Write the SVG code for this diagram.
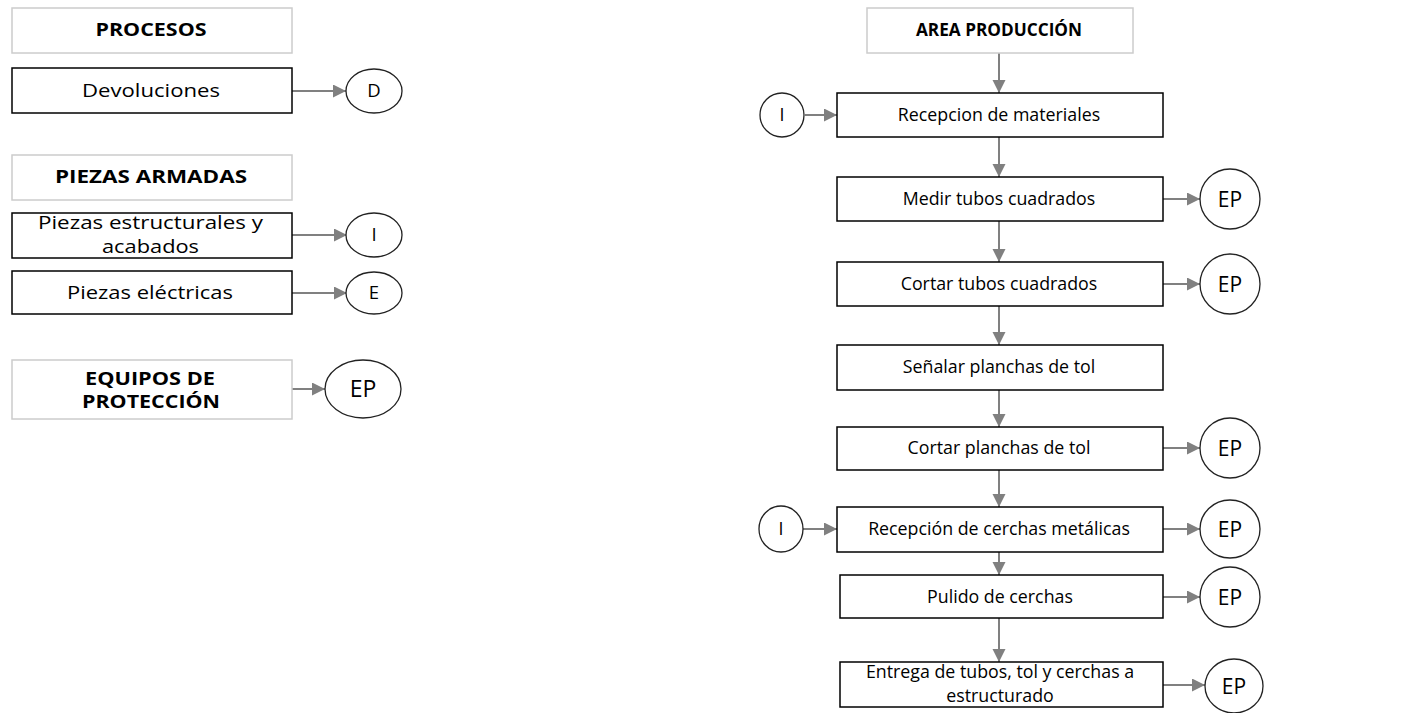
<svg xmlns="http://www.w3.org/2000/svg" width="1402" height="713" viewBox="0 0 1402 713">
<style>
.hdr{fill:#fff;stroke:#cccccc;stroke-width:1.5}
.box{fill:#fff;stroke:#000;stroke-width:1.5}
.circ{fill:#fff;stroke:#222;stroke-width:1.3}
.t{font-family:"Open Sans",sans-serif;fill:#000;text-anchor:middle}
.tl{font-size:18.5px}
.tr{font-size:17.8px}
.b{font-family:"Open Sans",sans-serif;font-weight:bold;fill:#000;text-anchor:middle;font-size:17px}
.c{stroke:#808080;stroke-width:2;fill:none;marker-end:url(#ah)}
</style>
<defs>
<marker id="ah" markerUnits="userSpaceOnUse" markerWidth="14" markerHeight="14" refX="13" refY="6.5" orient="auto">
<path d="M0,0 L13,6.5 L0,13 z" fill="#808080"/>
</marker>
</defs>
<rect width="1402" height="713" fill="#fff"/>
<g id="connectors">
<line class="c" x1="292" y1="91" x2="346" y2="91"/>
<line class="c" x1="292" y1="235" x2="347" y2="235"/>
<line class="c" x1="292" y1="293" x2="347" y2="293"/>
<line class="c" x1="292" y1="389" x2="325" y2="389"/>
<line class="c" x1="999" y1="53" x2="999" y2="93"/>
<line class="c" x1="805" y1="115" x2="837" y2="115"/>
<line class="c" x1="999" y1="137" x2="999" y2="177"/>
<line class="c" x1="1163" y1="199" x2="1200" y2="199"/>
<line class="c" x1="999" y1="221" x2="999" y2="262"/>
<line class="c" x1="1163" y1="284" x2="1200" y2="284"/>
<line class="c" x1="999" y1="306" x2="999" y2="345"/>
<line class="c" x1="999" y1="390" x2="999" y2="427"/>
<line class="c" x1="1163" y1="448" x2="1200" y2="448"/>
<line class="c" x1="999" y1="470" x2="999" y2="507"/>
<line class="c" x1="803" y1="529" x2="837" y2="529"/>
<line class="c" x1="1163" y1="529" x2="1200" y2="529"/>
<line class="c" x1="999" y1="552" x2="999" y2="575"/>
<line class="c" x1="1163" y1="597" x2="1200" y2="597"/>
<line class="c" x1="999" y1="618" x2="999" y2="662"/>
<line class="c" x1="1163" y1="685" x2="1205" y2="685"/>
</g>
<g id="procesos"><rect class="hdr" x="12" y="8" width="280" height="45"/><text class="b" x="151" y="36" textLength="111" lengthAdjust="spacingAndGlyphs">PROCESOS</text></g>
<g id="devoluciones"><rect class="box" x="12" y="68" width="280" height="45"/><text class="t tl" x="151" y="97" textLength="138" lengthAdjust="spacingAndGlyphs">Devoluciones</text></g>
<g id="circD"><ellipse class="circ" cx="374" cy="91" rx="28" ry="22"/><text class="t tl" x="374" y="97">D</text></g>
<g id="piezasArmadas"><rect class="hdr" x="12" y="155" width="280" height="45"/><text class="b" x="151" y="183" textLength="192" lengthAdjust="spacingAndGlyphs">PIEZAS ARMADAS</text></g>
<g id="piezasEstructurales"><rect class="box" x="12" y="213" width="280" height="45"/><text class="t" font-size="17.5" x="150.5" y="229" textLength="225" lengthAdjust="spacingAndGlyphs">Piezas estructurales y</text><text class="t" font-size="17.5" x="150.5" y="253" textLength="97" lengthAdjust="spacingAndGlyphs">acabados</text></g>
<g id="circI1"><ellipse class="circ" cx="374" cy="235" rx="28" ry="22"/><text class="t tl" x="374" y="241">I</text></g>
<g id="piezasElectricas"><rect class="box" x="12" y="271" width="280" height="43"/><text class="t tl" x="150" y="299" textLength="166" lengthAdjust="spacingAndGlyphs">Piezas eléctricas</text></g>
<g id="circE"><ellipse class="circ" cx="374" cy="293" rx="28" ry="21"/><text class="t tl" x="374" y="299">E</text></g>
<g id="equipos"><rect class="hdr" x="12" y="360" width="280" height="59"/><text class="b" x="150" y="385" textLength="130" lengthAdjust="spacingAndGlyphs">EQUIPOS DE</text><text class="b" x="151" y="408" textLength="138" lengthAdjust="spacingAndGlyphs">PROTECCIÓN</text></g>
<g id="circEP0"><ellipse class="circ" cx="363" cy="389" rx="38" ry="29"/><text class="t" font-size="23" x="363" y="397">EP</text></g>

<g id="areaProduccion"><rect class="hdr" x="867" y="8" width="266" height="45"/><text class="b" x="999" y="36" textLength="166" lengthAdjust="spacingAndGlyphs">AREA PRODUCCIÓN</text></g>
<g id="recepcion"><rect class="box" x="837" y="93" width="326" height="44"/><text class="t tr" x="999" y="121">Recepcion de materiales</text></g>
<g id="circI2"><ellipse class="circ" cx="782" cy="115" rx="22" ry="22"/><text class="t tr" x="782" y="121">I</text></g>
<g id="medir"><rect class="box" x="837" y="177" width="326" height="44"/><text class="t tr" x="999" y="205">Medir tubos cuadrados</text></g>
<g id="circEP1"><ellipse class="circ" cx="1230" cy="199" rx="30" ry="30"/><text class="t" font-size="21" x="1230" y="207">EP</text></g>
<g id="cortarTubos"><rect class="box" x="837" y="262" width="326" height="44"/><text class="t tr" x="999" y="290">Cortar tubos cuadrados</text></g>
<g id="circEP2"><ellipse class="circ" cx="1230" cy="284" rx="30" ry="30"/><text class="t" font-size="21" x="1230" y="292">EP</text></g>
<g id="senalar"><rect class="box" x="837" y="345" width="326" height="45"/><text class="t tr" x="999" y="373">Señalar planchas de tol</text></g>
<g id="cortarPlanchas"><rect class="box" x="837" y="427" width="326" height="43"/><text class="t tr" x="999" y="454">Cortar planchas de tol</text></g>
<g id="circEP3"><ellipse class="circ" cx="1230" cy="448" rx="30" ry="30"/><text class="t" font-size="21" x="1230" y="456">EP</text></g>
<g id="cerchas"><rect class="box" x="837" y="507" width="326" height="45"/><text class="t tr" x="999" y="535">Recepción de cerchas metálicas</text></g>
<g id="circI3"><ellipse class="circ" cx="781" cy="529" rx="22" ry="23"/><text class="t tr" x="781" y="535">I</text></g>
<g id="circEP4"><ellipse class="circ" cx="1230" cy="529" rx="30" ry="29"/><text class="t" font-size="21" x="1230" y="537">EP</text></g>
<g id="pulido"><rect class="box" x="840" y="575" width="323" height="43"/><text class="t tr" x="1000" y="603">Pulido de cerchas</text></g>
<g id="circEP5"><ellipse class="circ" cx="1230" cy="597" rx="30" ry="30"/><text class="t" font-size="21" x="1230" y="605">EP</text></g>
<g id="entrega"><rect class="box" x="840" y="662" width="323" height="45"/><text class="t tr" x="1000" y="678">Entrega de tubos, tol y cerchas a</text><text class="t tr" x="1000" y="702">estructurado</text></g>
<g id="circEP6"><ellipse class="circ" cx="1234" cy="686" rx="29" ry="27"/><text class="t" font-size="21" x="1234" y="694">EP</text></g>
</svg>
